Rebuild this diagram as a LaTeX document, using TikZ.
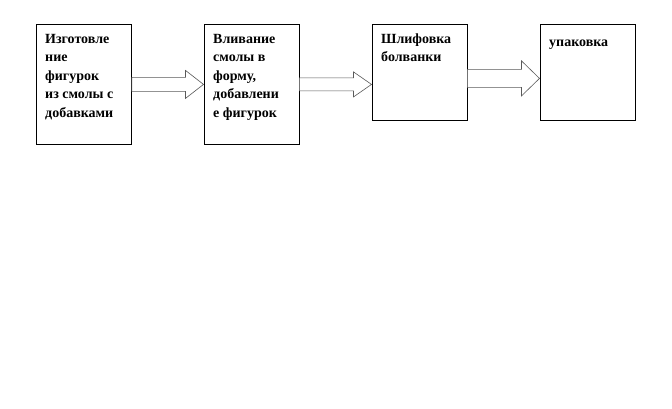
\documentclass[tikz,border=0pt]{standalone}
\usepackage{fontspec}
\setmainfont{Liberation Serif}
\usetikzlibrary{calc}
% #1 start coord, #2 tip coord, #3 shaft half width, #4 head half width, #5 head length
\newcommand\myblkarrow[5]{%
  \draw[blk] ($(#1)+(0,-#3)$) -- ($(#2)+(-#5,-#3)$) -- ($(#2)+(-#5,-#4)$) -- (#2)
    -- ($(#2)+(-#5,#4)$) -- ($(#2)+(-#5,#3)$) -- ($(#1)+(0,#3)$) -- cycle;}
\begin{document}
\begin{tikzpicture}[x=1pt,y=-1pt,
  box/.style={draw=black, line width=0.8pt, minimum width=95pt, anchor=north west, inner sep=0pt},
  txt/.style={anchor=base west, align=left, inner sep=0pt,
              font=\bfseries\fontsize{14}{18.5}\selectfont},
  blk/.style={draw=black!65, fill=white, line width=0.6pt}]
\useasboundingbox (0,0) rectangle (672,408);
% boxes
\node[box, minimum height=120pt] (b1) at (36,24) {};
\node[box, minimum height=120pt] (b2) at (203.5,24) {};
\node[box, minimum height=96pt]  (b3) at (371.5,24) {};
\node[box, minimum height=96pt]  (b4) at (539.5,24) {};
% texts (base anchor = baseline of last line)
\node[txt] (t1) at (45,117) {Изготовле\\ние\\фигурок\\из смолы с\\добавками};
\node[txt] (t2) at (213,117) {Вливание\\смолы в\\форму,\\добавлени\\е фигурок};
\node[txt] (t3) at (381,61.5) {Шлифовка\\болванки};
\node[txt] (t4) at (549,46) {упаковка};
% arrows
\coordinate (s1) at (b1.east);
\coordinate (e1) at (b2.west);
\coordinate (s2) at (b2.east);
\coordinate (e2) at (b3.west |- s2);
\coordinate (s3) at ($(b3.east)+(0,6)$);
\coordinate (e3) at ($(b4.west)+(0,6)$);
\myblkarrow{s1}{e1}{7}{14}{18}
\myblkarrow{s2}{e2}{6.5}{12.5}{18}
\myblkarrow{s3}{e3}{9}{17.5}{18}
\end{tikzpicture}
\end{document}
